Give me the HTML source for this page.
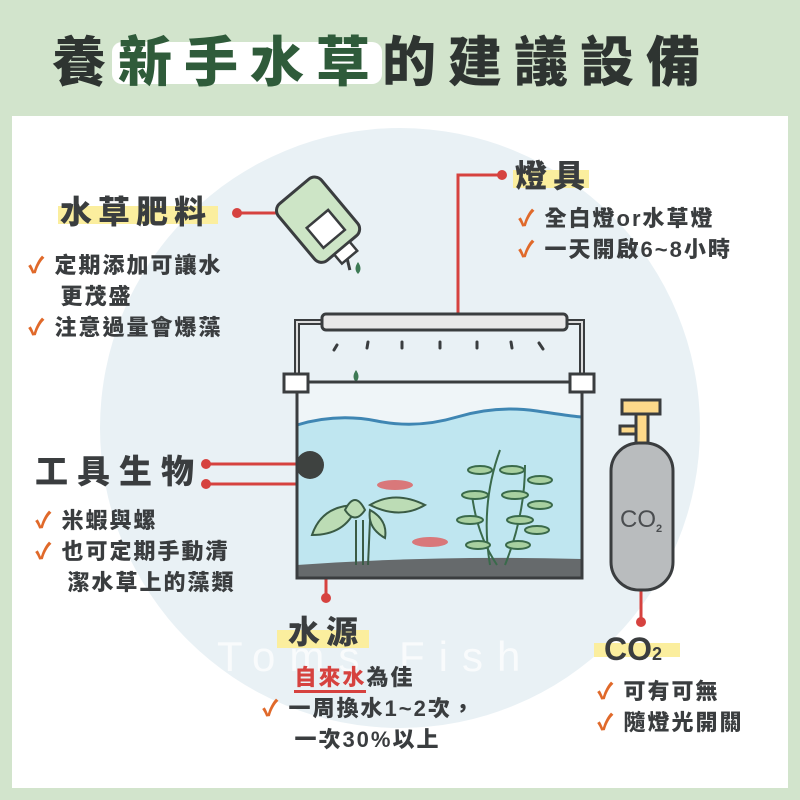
<!DOCTYPE html>
<html><head><meta charset="utf-8"><style>
body{margin:0;width:800px;height:800px;overflow:hidden;background:#d2e4cc;font-family:"Liberation Sans","Noto Sans CJK TC",sans-serif;}
.t{position:absolute;font-weight:900;color:#3a3d3f;white-space:nowrap;line-height:1;}
.ck{color:#e0692a;font-weight:900;}
.hl{position:absolute;background:#fbee9e;}
</style></head><body>
<div style="position:absolute;left:12px;top:116px;width:776px;height:672px;background:#fff;overflow:hidden">
<svg width="776" height="672" style="position:absolute;left:0;top:0"><circle cx="388" cy="312" r="300" fill="#e9f1f5"/>
<text x="205" y="555" font-family="Liberation Sans" font-size="42" fill="#fff" fill-opacity="0.7" letter-spacing="14">Toms Fish</text></svg>
</div>
<div style="position:absolute;left:112px;top:42px;width:270px;height:42px;background:#fff;border-radius:10px"></div>
<div class="t" style="left:52px;top:36px;font-size:54px;letter-spacing:12px;color:#2e3431">養<span style="color:#2f5b3a">新手水草</span>的建議設備</div>

<svg width="800" height="800" style="position:absolute;left:0;top:0">
<g stroke="#d6423f" stroke-width="3" fill="none">
<line x1="237" y1="213" x2="296" y2="213"/>
<polyline points="502,175 458,175 458,322"/>
<line x1="206" y1="464" x2="305" y2="464"/>
<line x1="206" y1="484" x2="370" y2="484"/>
<line x1="326" y1="550" x2="326" y2="598"/>
<line x1="641" y1="570" x2="641" y2="622"/>
</g>
<g fill="#d6423f"><circle cx="237" cy="213" r="5"/><circle cx="502" cy="175" r="5"/><circle cx="206" cy="464" r="5"/><circle cx="206" cy="484" r="5"/><circle cx="326" cy="598" r="5"/><circle cx="641" cy="622" r="5"/></g>
<g transform="translate(320,222) rotate(50)">
<rect x="-40" y="-28" width="74" height="56" rx="9" fill="#cde5c6" stroke="#3a3d3f" stroke-width="3"/>
<rect x="-4" y="-14" width="26" height="28" fill="#fff" stroke="#3a3d3f" stroke-width="2.5"/>
<rect x="34" y="-10" width="12" height="20" fill="#fff" stroke="#3a3d3f" stroke-width="2.5"/>
<line x1="46" y1="3" x2="56" y2="8" stroke="#3a3d3f" stroke-width="3"/>
</g>
<path d="M358 262 q5 7 0 12 q-5 -5 0 -12z" fill="#3d7a55"/>
<path d="M356 370 q5 7 0 12 q-5 -5 0 -12z" fill="#3d7a55"/>
<rect x="297" y="382" width="285" height="196" fill="#fff" fill-opacity="0.3"/>
<path d="M297 425 q40 -12 80 -4 t80 -4 t80 -6 t45 6 V578 H297z" fill="#bfe6f0"/>
<path d="M297 425 q40 -12 80 -4 t80 -4 t80 -6 t45 6" fill="none" stroke="#3f86b3" stroke-width="3"/>
<path d="M297 565 q140 -10 285 -6 V578 H297z" fill="#666a6c"/>
<g stroke="#3a5b45" stroke-width="2">
<line x1="356" y1="520" x2="356" y2="565"/><line x1="363" y1="520" x2="363" y2="565"/><line x1="370" y1="520" x2="368" y2="565"/>
<path d="M312 535 q10 -30 45 -30 q-10 30 -45 30z" fill="#bcdcb5"/>
<path d="M370 505 q25 -15 55 0 q-25 15 -55 0z" fill="#bcdcb5"/>
<path d="M345 510 q10 -20 20 0 q-10 15 -20 0z" fill="#bcdcb5"/>
<path d="M370 510 q18 10 15 28 q-18 -10 -15 -28z" fill="#bcdcb5"/>
</g>
<g stroke="#3a6a4b" stroke-width="2" fill="#a8d0a0">
<path d="M490 565 q-10 -60 10 -115" fill="none"/><path d="M505 565 q20 -50 20 -100" fill="none"/><path d="M497 565 q-20 -30 -25 -70" fill="none"/>
<ellipse cx="480" cy="470" rx="12" ry="4"/><ellipse cx="512" cy="470" rx="12" ry="4"/><ellipse cx="475" cy="495" rx="13" ry="4"/><ellipse cx="515" cy="495" rx="13" ry="4"/><ellipse cx="470" cy="520" rx="13" ry="4"/><ellipse cx="520" cy="520" rx="13" ry="4"/><ellipse cx="478" cy="545" rx="12" ry="4"/><ellipse cx="518" cy="545" rx="12" ry="4"/><ellipse cx="540" cy="480" rx="12" ry="4"/><ellipse cx="540" cy="505" rx="12" ry="4"/><ellipse cx="537" cy="530" rx="12" ry="4"/>
</g>
<circle cx="310" cy="465" r="14" fill="#3e4240"/>
<ellipse cx="395" cy="485" rx="18" ry="5" fill="#d9787a"/>
<ellipse cx="430" cy="542" rx="18" ry="5" fill="#d9787a"/>
<rect x="297" y="382" width="285" height="196" fill="none" stroke="#3a3d3f" stroke-width="3"/>
<polyline points="297,380 297,322 325,322" fill="none" stroke="#3a3d3f" stroke-width="6"/>
<polyline points="297,380 297,322 325,322" fill="none" stroke="#ddd" stroke-width="2"/>
<polyline points="582,380 582,322 560,322" fill="none" stroke="#3a3d3f" stroke-width="6"/>
<polyline points="582,380 582,322 560,322" fill="none" stroke="#ddd" stroke-width="2"/>
<rect x="322" y="314" width="245" height="16" rx="4" fill="#e8e8e8" stroke="#3a3d3f" stroke-width="3"/>
<rect x="284" y="374" width="24" height="18" fill="#fff" stroke="#3a3d3f" stroke-width="3"/>
<rect x="570" y="374" width="24" height="18" fill="#fff" stroke="#3a3d3f" stroke-width="3"/>
<g stroke="#3a3d3f" stroke-width="3" stroke-linecap="round">
<line x1="337" y1="345" x2="334" y2="350"/><line x1="368" y1="342" x2="367" y2="348"/><line x1="402" y1="342" x2="402" y2="348"/><line x1="440" y1="342" x2="440" y2="348"/><line x1="477" y1="342" x2="477" y2="348"/><line x1="511" y1="342" x2="512" y2="348"/><line x1="539" y1="343" x2="543" y2="349"/>
</g>
<rect x="622" y="400" width="38" height="14" fill="#fdd98a" stroke="#3a3d3f" stroke-width="3"/>
<rect x="620" y="426" width="16" height="8" fill="#fdd98a" stroke="#3a3d3f" stroke-width="3"/>
<rect x="636" y="414" width="12" height="30" fill="#fdd98a" stroke="#3a3d3f" stroke-width="3"/>
<rect x="611" y="443" width="62" height="147" rx="28" fill="#b9bcbe" stroke="#3a3d3f" stroke-width="3"/>
<text x="620" y="527" font-family="Liberation Sans" font-size="24" fill="#4a4d50">CO</text><text x="656" y="532" font-family="Liberation Sans" font-size="11" font-weight="bold" fill="#4a4d50">2</text>
</svg>

<div class="hl" style="left:58px;top:206px;width:160px;height:18px"></div>
<div class="t" style="left:60px;top:196px;font-size:32px;letter-spacing:6px">水草肥料</div>
<div class="t" style="left:28px;top:250px;font-size:22px;line-height:31px;letter-spacing:2px"><span class="ck">✓</span> 定期添加可讓水<br>&nbsp;&nbsp;&nbsp;&nbsp;更茂盛<br><span class="ck">✓</span> 注意過量會爆藻</div>

<div class="hl" style="left:513px;top:170px;width:76px;height:18px"></div>
<div class="t" style="left:515px;top:160px;font-size:32px;letter-spacing:6px">燈具</div>
<div class="t" style="left:518px;top:203px;font-size:22px;line-height:31px;letter-spacing:2px"><span class="ck">✓</span> 全白燈or水草燈<br><span class="ck">✓</span> 一天開啟6~8小時</div>

<div class="t" style="left:35px;top:455px;font-size:33px;letter-spacing:9px">工具生物</div>
<div class="t" style="left:35px;top:505px;font-size:22px;line-height:31px;letter-spacing:2px"><span class="ck">✓</span> 米蝦與螺<br><span class="ck">✓</span> 也可定期手動清<br>&nbsp;&nbsp;&nbsp;&nbsp;潔水草上的藻類</div>

<div class="hl" style="left:277px;top:630px;width:92px;height:18px"></div>
<div class="t" style="left:288px;top:616px;font-size:32px;letter-spacing:6px">水源</div>
<div class="t" style="left:262px;top:662px;font-size:22px;line-height:31px;letter-spacing:2px">&nbsp;&nbsp;&nbsp;&nbsp;<span style="color:#d6423f;border-bottom:3px solid #d6423f">自來水</span>為佳<br><span class="ck">✓</span> 一周換水1~2次，<br>&nbsp;&nbsp;&nbsp;&nbsp;一次30%以上</div>

<div class="hl" style="left:594px;top:643px;width:86px;height:14px"></div>
<div class="t" style="left:604px;top:633px;font-size:32px;font-family:'Liberation Sans',sans-serif">CO<span style="font-size:18px">2</span></div>
<div class="t" style="left:597px;top:676px;font-size:22px;line-height:31px;letter-spacing:2px"><span class="ck">✓</span> 可有可無<br><span class="ck">✓</span> 隨燈光開關</div>
</body></html>
